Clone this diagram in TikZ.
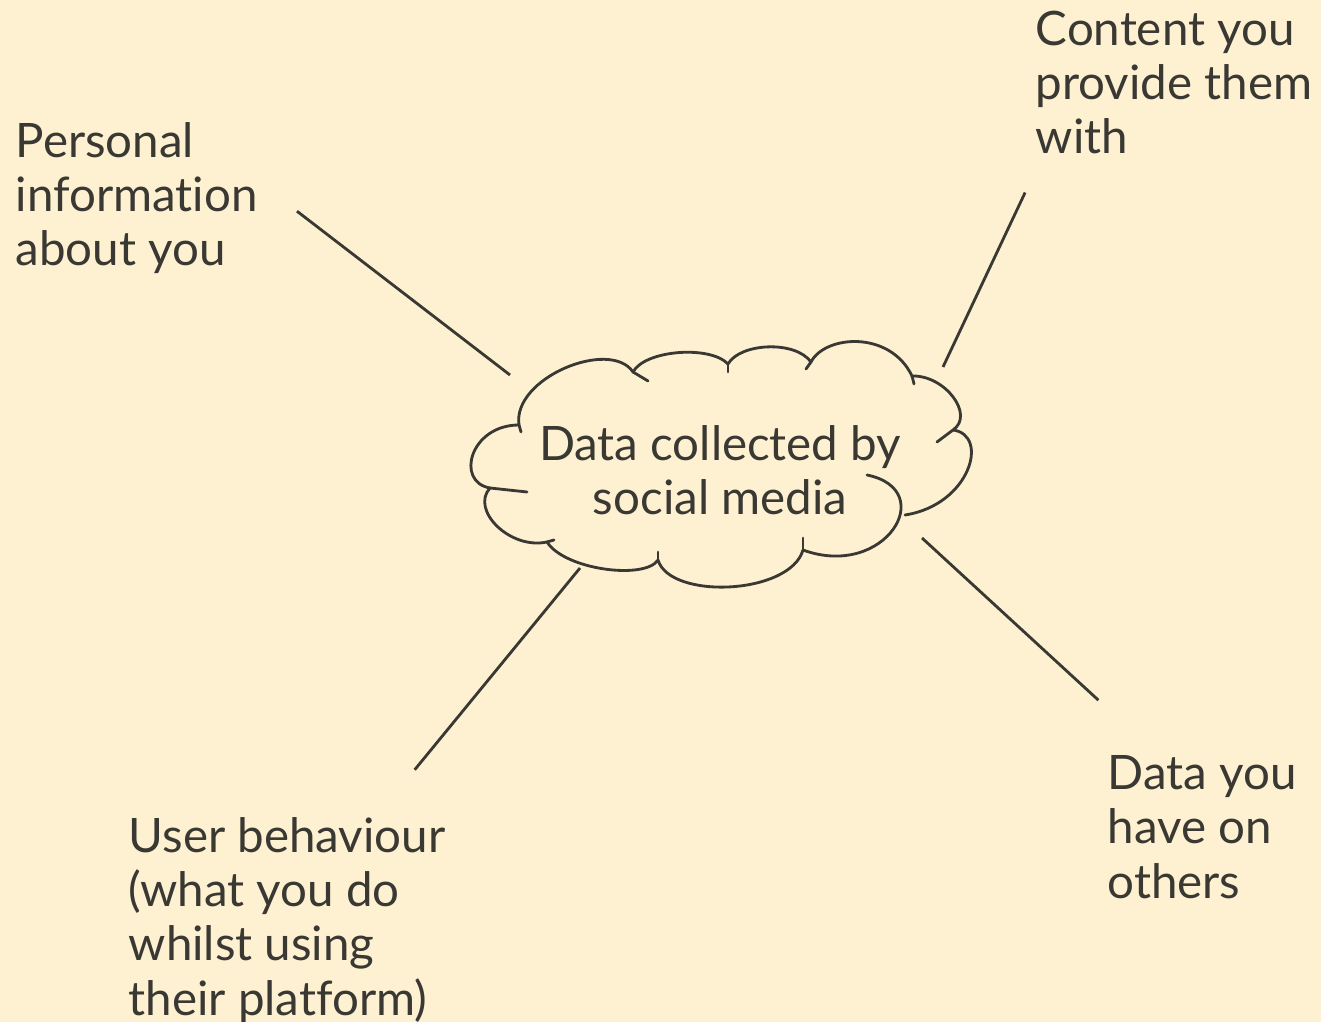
\documentclass[tikz,border=0pt]{standalone}
\usepackage{fontspec}
\setmainfont{Lato}[Ligatures=NoCommon]
\usepackage{tikz}
\definecolor{pcream}{HTML}{FEF1D1}
\definecolor{pink}{HTML}{3A3833}
\tikzset{
  lbl/.style={anchor=north west,align=left,inner sep=0pt,text=pink,
              font=\fontsize{13.5}{15.4}\selectfont},
  link/.style={draw=pink,line width=0.8pt},
}
\begin{document}
\begin{tikzpicture}[x=0.01cm,y=-0.01cm,
  mid/.style={align=center,inner sep=0pt,text=pink,font=\fontsize{13.5}{15.4}\selectfont},
  puff/.style={draw=pink,line width=0.8pt,line cap=round,line join=round}]
% background
\fill[pcream] (0,0) rectangle (1321,1022);
\useasboundingbox (0,0) rectangle (1321,1022);
% centre text and its cloud
\node[mid] (data) at (720,470) {Data collected by\\social media};
\draw[puff] (519,425) .. controls (512,378) and (610,338) .. (633,372)
  .. controls (645,350) and (710,345) .. (728,364)
  .. controls (740,343) and (795,340) .. (811,362)
  .. controls (825,335) and (890,330) .. (912,376)
  .. controls (945,375) and (975,415) .. (953,430) -- (937,442)
  (953,430) .. controls (990,435) and (970,505) .. (905,515)
  (867,475) .. controls (940,490) and (885,580) .. (803,550)
  .. controls (790,595) and (670,600) .. (658,560)
  .. controls (645,580) and (565,570) .. (547,542)
  .. controls (510,550) and (470,510) .. (490,488)
  .. controls (455,482) and (470,425) .. (519,425);
% small hooks where the puffs meet
\draw[puff] (490,488) -- (527,492);
\draw[puff] (519,425) -- (521,432);
\draw[puff] (633,372) -- (648,381);
\draw[puff] (728,364) -- (728,372);
\draw[puff] (811,362) -- (806,369);
\draw[puff] (912,376) -- (914,384);
\draw[puff] (547,542) -- (554,540);
\draw[puff] (658,560) -- (658,552);
\draw[puff] (803,550) -- (803,538);
% labels
\node[lbl] (pers) at (15,122) {Personal\\information\\about you};
\node[lbl] (cont) at (1035,10) {Content you\\provide them\\with};
\node[lbl] (user) at (128,817) {User behaviour\\(what you do\\whilst using\\their platform)};
\node[lbl] (others) at (1107,755) {Data you\\have on\\others};
% where the links stop short of the cloud
\coordinate (c-pers) at (510,375);
\coordinate (c-cont) at (943,367);
\coordinate (c-user) at (580,568);
\coordinate (c-oth) at (922,538);
% links
\draw[link,shorten <=0.49cm] (pers.8) -- (c-pers);
\draw[link,shorten <=0.42cm] ([xshift=0.08cm]cont.south west) -- (c-cont);
\draw[link,shorten <=0.61cm] ([xshift=-0.70cm]user.north east) -- (c-user);
\draw[link,shorten <=0.81cm] ([xshift=0.51cm]others.north west) -- (c-oth);
\end{tikzpicture}
\end{document}
